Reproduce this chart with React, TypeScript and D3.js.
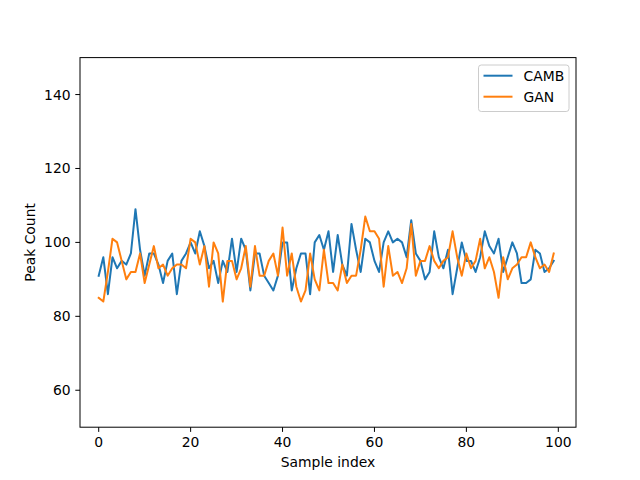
import { useEffect, useRef } from 'react';
import * as d3 from 'd3';

const camb = [
  91, 96, 86, 96, 93, 95, 94, 97, 109, 98, 91, 97, 97, 94, 89, 95, 97, 86, 95, 97,
  100, 97, 103, 99, 93, 95, 89, 95, 92, 101, 92, 101, 98, 87, 97, 97, 91, 89, 87, 91,
  100, 100, 87, 93, 97, 97, 86, 100, 102, 98, 103, 92, 102, 94, 91, 105, 98, 92, 101, 100,
  95, 92, 100, 103, 100, 101, 100, 96, 106, 97, 95, 90, 92, 103, 96, 93, 98, 86, 93, 100,
  95, 95, 92, 96, 103, 99, 97, 101, 92, 96, 100, 97, 89, 89, 90, 98, 97, 92, 93, 95,
];

const gan = [
  85, 84, 92, 101, 100, 95, 90, 92, 92, 97, 89, 94, 99, 93, 94, 91, 93, 94, 94, 93,
  101, 100, 94, 99, 88, 100, 97, 84, 95, 95, 90, 93, 99, 88, 99, 91, 91, 95, 97, 91,
  104, 91, 97, 88, 84, 87, 97, 90, 87, 98, 89, 89, 87, 94, 89, 91, 91, 98, 107, 103,
  103, 101, 88, 99, 91, 92, 89, 93, 105, 91, 95, 95, 99, 95, 93, 95, 96, 103, 96, 91,
  97, 93, 95, 101, 93, 96, 92, 85, 96, 90, 93, 94, 96, 96, 100, 96, 93, 94, 92, 97,
];

const seriesNames = ['CAMB', 'GAN'];
const seriesColors = ['#1f77b4', '#ff7f0e'];
const xTicks = [0, 20, 40, 60, 80, 100];
const yTicks = [60, 80, 100, 120, 140];

export default function App() {
  const svgRef = useRef<SVGSVGElement>(null);

  useEffect(() => {
    document.body.style.margin = '0';
    if (!svgRef.current) return;

    const svg = d3.select(svgRef.current);
    svg.selectAll('*').remove();

    const width = 640;
    const height = 480;
    const left = 80;
    const right = 576;
    const top = 57.6;
    const bottom = 427.2;
    const font = 'DejaVu Sans, sans-serif';

    svg.append('rect').attr('width', width).attr('height', height).attr('fill', '#fff');

    const x = d3.scaleLinear().domain([-4.07, 103.85]).range([left, right]);
    const y = d3.scaleLinear().domain([50, 150]).range([bottom, top]);

    // Lines
    const line = d3.line<number>()
      .x((_, i) => x(i))
      .y(d => y(d));

    [camb, gan].forEach((values, k) => {
      svg.append('path')
        .datum(values)
        .attr('d', line)
        .attr('fill', 'none')
        .attr('stroke', seriesColors[k])
        .attr('stroke-width', 2)
        .attr('stroke-linejoin', 'round')
        .attr('stroke-linecap', 'square');
    });

    // Frame
    svg.append('rect')
      .attr('x', left)
      .attr('y', top)
      .attr('width', right - left)
      .attr('height', bottom - top)
      .attr('fill', 'none')
      .attr('stroke', '#000')
      .attr('stroke-width', 1);

    // X ticks
    xTicks.forEach(t => {
      svg.append('line')
        .attr('x1', x(t)).attr('x2', x(t))
        .attr('y1', bottom).attr('y2', bottom + 4.7)
        .attr('stroke', '#000');
      svg.append('text')
        .attr('x', x(t))
        .attr('y', bottom + 19.5)
        .attr('text-anchor', 'middle')
        .attr('font-family', font)
        .attr('font-size', '13.9px')
        .attr('fill', '#000')
        .text(t);
    });

    // Y ticks
    yTicks.forEach(t => {
      svg.append('line')
        .attr('x1', left - 4.7).attr('x2', left)
        .attr('y1', y(t)).attr('y2', y(t))
        .attr('stroke', '#000');
      svg.append('text')
        .attr('x', left - 9.4)
        .attr('y', y(t))
        .attr('dy', '0.36em')
        .attr('text-anchor', 'end')
        .attr('font-family', font)
        .attr('font-size', '13.9px')
        .attr('fill', '#000')
        .text(t);
    });

    // Axis labels
    svg.append('text')
      .attr('x', (left + right) / 2)
      .attr('y', 467)
      .attr('text-anchor', 'middle')
      .attr('font-family', font)
      .attr('font-size', '13.9px')
      .text('Sample index');

    svg.append('text')
      .attr('transform', `translate(35, ${(top + bottom) / 2}) rotate(-90)`)
      .attr('text-anchor', 'middle')
      .attr('font-family', font)
      .attr('font-size', '13.9px')
      .text('Peak Count');

    // Legend
    const legend = svg.append('g');
    legend.append('rect')
      .attr('x', 478.5)
      .attr('y', 65)
      .attr('width', 90.5)
      .attr('height', 46.5)
      .attr('rx', 2.8)
      .attr('fill', '#fff')
      .attr('fill-opacity', 0.8)
      .attr('stroke', '#cccccc')
      .attr('stroke-width', 1);

    seriesNames.forEach((name, k) => {
      const ly = 75.7 + k * 21;
      legend.append('line')
        .attr('x1', 483.5).attr('x2', 512.5)
        .attr('y1', ly).attr('y2', ly)
        .attr('stroke', seriesColors[k])
        .attr('stroke-width', 2);
      legend.append('text')
        .attr('x', 523.5)
        .attr('y', ly)
        .attr('dy', '0.36em')
        .attr('font-family', font)
        .attr('font-size', '13.9px')
        .attr('fill', '#000')
        .text(name);
    });
  }, []);

  return (
    <svg
      ref={svgRef}
      width={640}
      height={480}
      viewBox="0 0 640 480"
      style={{ display: 'block' }}
    />
  );
}
